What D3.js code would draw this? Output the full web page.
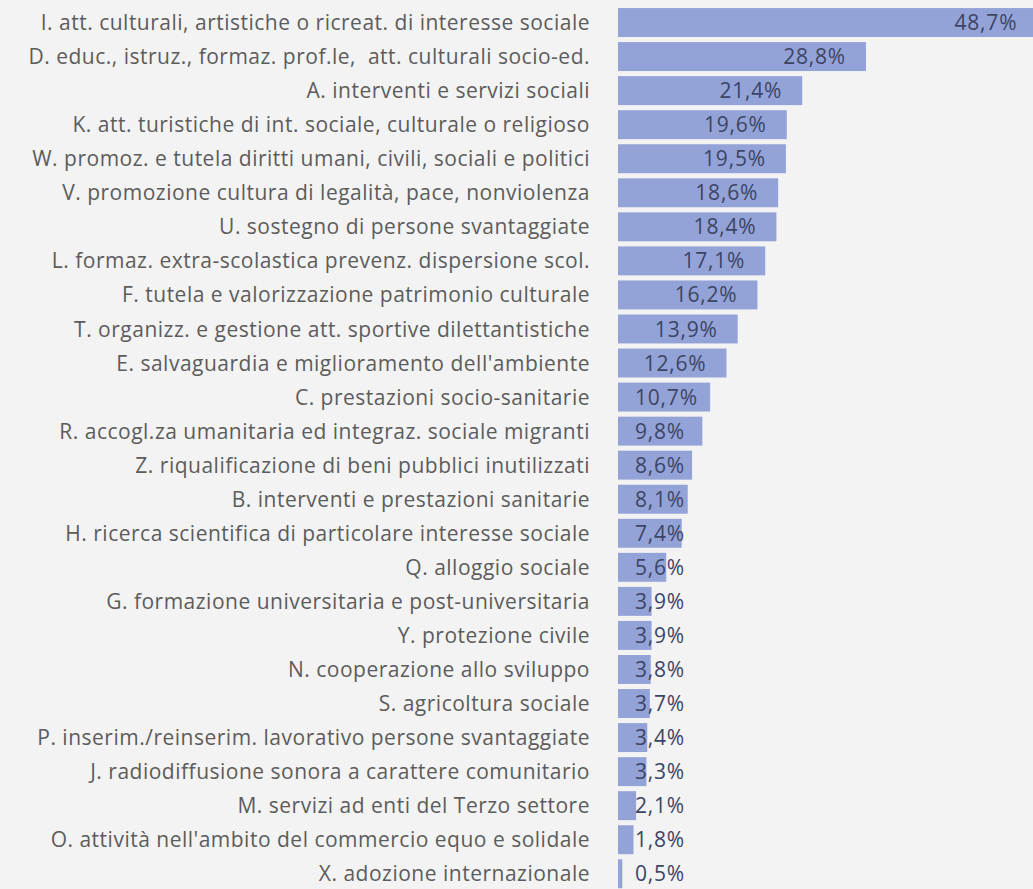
<!DOCTYPE html>
<html>
<head>
<meta charset="utf-8">
<script src="https://cdn.jsdelivr.net/npm/d3@7"></script>
<style>
  html, body { margin: 0; padding: 0; background: #f3f3f3; }
  svg { display: block; }
  text.cat { white-space: pre; }
</style>
</head>
<body>
<div id="chart"></div>
<script>
var width = 1033;
var height = 889;

var categories = [
    "I. att. culturali, artistiche o ricreat. di interesse sociale",
    "D. educ., istruz., formaz. prof.le,  att. culturali socio-ed.",
    "A. interventi e servizi sociali",
    "K. att. turistiche di int. sociale, culturale o religioso",
    "W. promoz. e tutela diritti umani, civili, sociali e politici",
    "V. promozione cultura di legalità, pace, nonviolenza",
    "U. sostegno di persone svantaggiate",
    "L. formaz. extra-scolastica prevenz. dispersione scol.",
    "F. tutela e valorizzazione patrimonio culturale",
    "T. organizz. e gestione att. sportive dilettantistiche",
    "E. salvaguardia e miglioramento dell'ambiente",
    "C. prestazioni socio-sanitarie",
    "R. accogl.za umanitaria ed integraz. sociale migranti",
    "Z. riqualificazione di beni pubblici inutilizzati",
    "B. interventi e prestazioni sanitarie",
    "H. ricerca scientifica di particolare interesse sociale",
    "Q. alloggio sociale",
    "G. formazione universitaria e post-universitaria",
    "Y. protezione civile",
    "N. cooperazione allo sviluppo",
    "S. agricoltura sociale",
    "P. inserim./reinserim. lavorativo persone svantaggiate",
    "J. radiodiffusione sonora a carattere comunitario",
    "M. servizi ad enti del Terzo settore",
    "O. attività nell'ambito del commercio equo e solidale",
    "X. adozione internazionale"
];
var values = [48.7, 28.8, 21.4, 19.6, 19.5, 18.6, 18.4, 17.1, 16.2, 13.9, 12.6, 10.7, 9.8,
    8.6, 8.1, 7.4, 5.6, 3.9, 3.9, 3.8, 3.7, 3.4, 3.3, 2.1, 1.8, 0.5];

var barStart = 618;
var labelEnd = 590;
var minValueX = 635;

var data = categories.map(function (c, i) { return { name: c, value: values[i] }; });

var svg = d3.select("#chart").append("svg")
    .attr("width", width)
    .attr("height", height);

var x = d3.scaleLinear()
    .domain([0, 50])
    .range([barStart, barStart + 430.5]);

var y = d3.scaleBand()
    .domain(categories)
    .range([5.5, 5.5 + 26 * 34.05])
    .paddingInner(0.15)
    .paddingOuter(0.075);

svg.selectAll("rect.bar")
    .data(data)
    .enter().append("rect")
    .attr("class", "bar")
    .attr("x", x(0))
    .attr("y", function (d) { return y(d.name); })
    .attr("width", function (d) { return x(d.value) - x(0); })
    .attr("height", y.bandwidth())
    .attr("fill", "#93a3d8");

svg.selectAll("text.cat")
    .data(data)
    .enter().append("text")
    .attr("class", "cat")
    .attr("x", labelEnd)
    .attr("y", function (d) { return y(d.name) + y.bandwidth() / 2; })
    .attr("dy", "0.36em")
    .attr("text-anchor", "end")
    .style("font-family", "'Open Sans', sans-serif")
    .style("font-size", "21px")
    .style("letter-spacing", "0.5px")
    .attr("fill", "#5c5c5c")
    .text(function (d) { return d.name; });

var fmt = function (v) { return v.toFixed(1).replace(".", ",") + "%"; };

svg.selectAll("text.val")
    .data(data)
    .enter().append("text")
    .attr("class", "val")
    .attr("y", function (d) { return y(d.name) + y.bandwidth() / 2; })
    .attr("dy", "0.36em")
    .style("font-family", "'Open Sans', sans-serif")
    .style("font-size", "21px")
    .style("letter-spacing", "0.8px")
    .attr("fill", "#3c4564")
    .text(function (d) { return fmt(d.value); })
    .attr("x", function (d) {
        var w = this.getComputedTextLength();
        return Math.max(x(d.value) - 20 - w, minValueX);
    });
</script>
</body>
</html>
